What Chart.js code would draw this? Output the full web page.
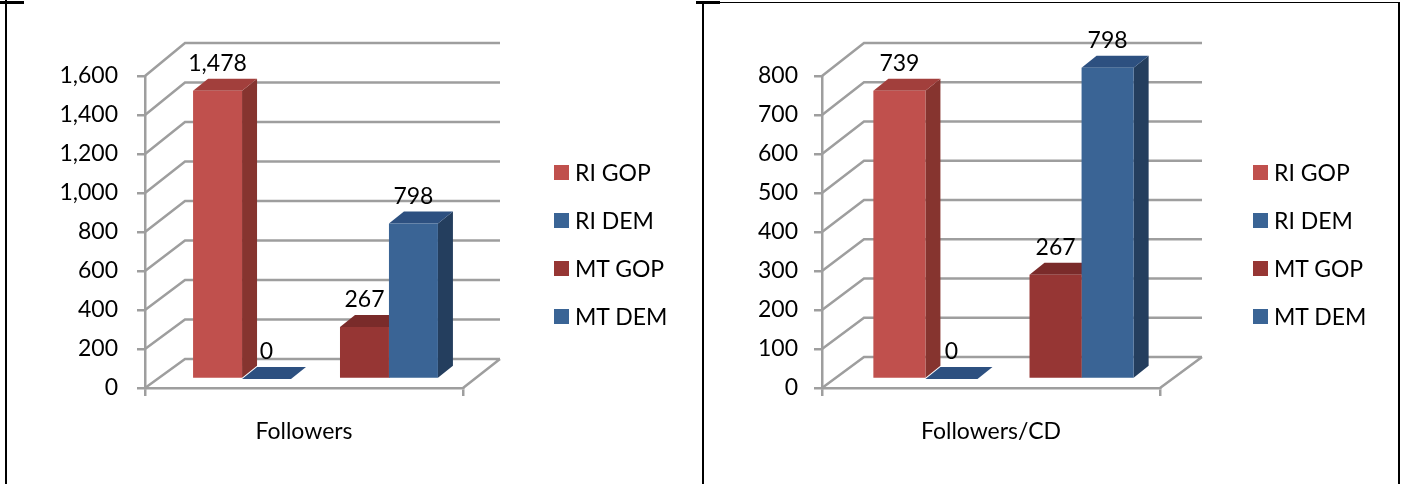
<!DOCTYPE html>
<html>
<head>
<meta charset="utf-8">
<title>Followers</title>
<script src="https://cdn.jsdelivr.net/npm/chart.js@4.4.0/dist/chart.umd.min.js"></script>
<style>
  html, body { margin: 0; padding: 0; background: #fff; }
  body { width: 1405px; height: 484px; position: relative; overflow: hidden; font-family: Lato, sans-serif; }
  .panel { position: absolute; top: 0; height: 484px; }
  #leftPanel { left: 7px; width: 695px; }
  #rightPanel { left: 705px; width: 692px; }
  .rule { position: absolute; background: #000; }
  .legend { position: absolute; top: 148px; font-size: 23px; line-height: 23px; color: #000; }
  .legend-row { display: flex; align-items: center; height: 48px; white-space: nowrap; }
  .legend-box { display: inline-block; width: 15px; height: 15px; margin-right: 6px; flex: none; }
</style>
</head>
<body>
<!-- table cell borders around the two charts -->
<div class="rule" style="left:5px;top:0;width:2px;height:484px"></div>
<div class="rule" style="left:0;top:1px;width:24px;height:3px"></div>
<div class="rule" style="left:702px;top:2px;width:2px;height:482px"></div>
<div class="rule" style="left:696px;top:1px;width:24px;height:3px"></div>
<div class="rule" style="left:720px;top:2px;width:678px;height:1px"></div>
<div class="rule" style="left:1398px;top:2px;width:2px;height:482px"></div>

<div class="panel" id="leftPanel"><canvas id="followersChart" width="695" height="484"></canvas></div>
<div class="panel" id="rightPanel"><canvas id="perCdChart" width="692" height="484"></canvas></div>
<div class="legend" id="followersLegend" style="left:554px"></div>
<div class="legend" id="perCdLegend" style="left:1253px"></div>

<script>
// Series (legend order)
const seriesNames = ['RI GOP', 'RI DEM', 'MT GOP', 'MT DEM'];
const frontColors = ['#C0504D', '#3A6495', '#963634', '#3A6495'];
const sideColors = ['#86342F', '#243E5E', '#6A2524', '#243E5E'];
const topColors = ['#A23F3C', '#2D5080', '#7A2B2A', '#2D5080'];

// Left chart
const followersCategories = ['Followers'];
const followersValues = [1478, 0, 267, 798];
const followersTicks = [0, 200, 400, 600, 800, 1000, 1200, 1400, 1600];

// Right chart
const perCdCategories = ['Followers/CD'];
const perCdValues = [739, 0, 267, 798];
const perCdTicks = [0, 100, 200, 300, 400, 500, 600, 700, 800];

const GRID = '#9e9e9e';
const FONT_SIZE = 23;

Chart.defaults.font.family = 'Lato';
Chart.defaults.font.size = FONT_SIZE;
Chart.defaults.color = '#000';

function buildDatasets(values) {
    const sets = seriesNames.map((name, i) => ({
        label: name,
        data: [values[i]],
        backgroundColor: frontColors[i],
        sideColor: sideColors[i],
        topColor: topColors[i],
        borderWidth: 0,
        clip: false
    }));
    // the sheet has an empty column between the RI and MT pairs
    sets.splice(2, 0, { label: '', data: [null], backgroundColor: 'rgba(0,0,0,0)', clip: false });
    return sets;
}

// Legend built from the library's own legend items, placed beside the chart
const htmlLegend = {
    id: 'htmlLegend',
    afterUpdate(chart, args, opts) {
        const list = document.getElementById(opts.containerID);
        list.innerHTML = '';
        const items = chart.options.plugins.legend.labels.generateLabels(chart);
        items.filter(item => item.text !== '').forEach(item => {
            const row = document.createElement('div');
            row.className = 'legend-row';
            const box = document.createElement('span');
            box.className = 'legend-box';
            box.style.background = item.fillStyle;
            const text = document.createElement('span');
            text.textContent = item.text;
            row.append(box, text);
            list.appendChild(row);
        });
    }
};

// Fake 3D: walls, top/side faces of the bars and the value labels
const box3d = {
    id: 'box3d',
    beforeDatasetsDraw(chart, args, opts) {
        const ctx = chart.ctx;
        const { left, right, top, bottom } = chart.chartArea;
        const yScale = chart.scales.y;
        const backY = y => y + opts.dyBottom + (opts.dyTop - opts.dyBottom) * (bottom - y) / (bottom - top);

        ctx.save();
        ctx.strokeStyle = GRID;
        ctx.lineWidth = 2.5;
        ctx.beginPath();
        yScale.ticks.forEach(t => {
            const y = yScale.getPixelForValue(t.value);
            const by = backY(y);
            ctx.moveTo(left, y);
            ctx.lineTo(left + opts.dxLeft, by);
            ctx.lineTo(right + opts.dxRight, by);
        });
        ctx.moveTo(right, bottom);
        ctx.lineTo(right + opts.dxRight, backY(bottom));
        ctx.stroke();
        ctx.restore();

        // top and side faces first, the library paints the fronts over them
        ctx.save();
        ctx.translate(opts.shiftX, opts.shiftY);
        chart.data.datasets.forEach((ds, i) => {
            if (!ds.label) return;
            chart.getDatasetMeta(i).data.forEach(bar => {
                const { x, y, base, width } = bar.getProps(['x', 'y', 'base', 'width'], true);
                const x0 = x - width / 2;
                const x1 = x + width / 2;
                const dx = opts.depthX, dy = opts.depthY;
                ctx.fillStyle = ds.sideColor;
                ctx.beginPath();
                ctx.moveTo(x1, y);
                ctx.lineTo(x1 + dx, y + dy);
                ctx.lineTo(x1 + dx, base + dy);
                ctx.lineTo(x1, base);
                ctx.closePath();
                ctx.fill();
                ctx.fillStyle = ds.topColor;
                ctx.beginPath();
                ctx.moveTo(x0, y);
                ctx.lineTo(x1, y);
                ctx.lineTo(x1 + dx, y + dy);
                ctx.lineTo(x0 + dx, y + dy);
                ctx.closePath();
                ctx.fill();
            });
        });
        ctx.restore();

        // fronts sit in the middle of the floor depth
        ctx.save();
        ctx.translate(opts.shiftX, opts.shiftY);
    },
    afterDatasetsDraw(chart, args, opts) {
        const ctx = chart.ctx;
        ctx.restore();

        ctx.save();
        ctx.font = FONT_SIZE + 'px Lato';
        ctx.fillStyle = '#000';
        ctx.textAlign = 'center';
        ctx.textBaseline = 'middle';
        chart.data.datasets.forEach((ds, i) => {
            if (!ds.label) return;
            chart.getDatasetMeta(i).data.forEach((bar, j) => {
                const { x, y } = bar.getProps(['x', 'y'], true);
                ctx.fillText(ds.data[j].toLocaleString('en-US'), x + opts.shiftX, y + opts.shiftY - 27);
            });
        });
        ctx.restore();
    }
};

function makeChart(canvasId, legendId, categories, values, ticks, layout) {
    const canvas = document.getElementById(canvasId);
    return new Chart(canvas, {
        type: 'bar',
        data: {
            labels: categories,
            datasets: buildDatasets(values)
        },
        plugins: [box3d, htmlLegend],
        options: {
            responsive: false,
            animation: false,
            locale: 'en-US',
            categoryPercentage: 0.77,
            barPercentage: 1.0,
            layout: {
                padding: { left: 8, right: canvas.width - layout.plotRight, top: 76, bottom: 30 }
            },
            scales: {
                x: {
                    grid: { drawOnChartArea: false, drawTicks: true, tickLength: 8, color: GRID, lineWidth: 2.5, offset: true },
                    border: { display: true, color: GRID, width: 2.5 },
                    ticks: { padding: 22, autoSkip: false, font: { size: FONT_SIZE } },
                    afterFit: s => { s.height = 66; }
                },
                y: {
                    min: ticks[0],
                    max: ticks[ticks.length - 1],
                    ticks: { stepSize: ticks[1] - ticks[0], padding: layout.tickPad, font: { size: FONT_SIZE } },
                    grid: { drawOnChartArea: false, drawTicks: true, tickLength: 8, color: GRID, lineWidth: 2.5 },
                    border: { display: true, color: GRID, width: 2.5 },
                    afterFit: s => { s.width = layout.axisWidth; }
                }
            },
            plugins: {
                legend: { display: false },
                htmlLegend: { containerID: legendId },
                tooltip: { enabled: false },
                box3d: layout.depth
            }
        }
    });
}

makeChart('followersChart', 'followersLegend', followersCategories, followersValues, followersTicks, {
    plotRight: 456, axisWidth: 130, tickPad: 19,
    depth: { dxLeft: 40, dxRight: 37, dyBottom: -29, dyTop: -33, shiftX: 11.5, shiftY: -9, depthX: 15, depthY: -12 }
});

makeChart('perCdChart', 'perCdLegend', perCdCategories, perCdValues, perCdTicks, {
    plotRight: 455, axisWidth: 109, tickPad: 16,
    depth: { dxLeft: 42, dxRight: 42, dyBottom: -31, dyTop: -33, shiftX: 12.5, shiftY: -9, depthX: 15, depthY: -12 }
});
</script>
</body>
</html>
